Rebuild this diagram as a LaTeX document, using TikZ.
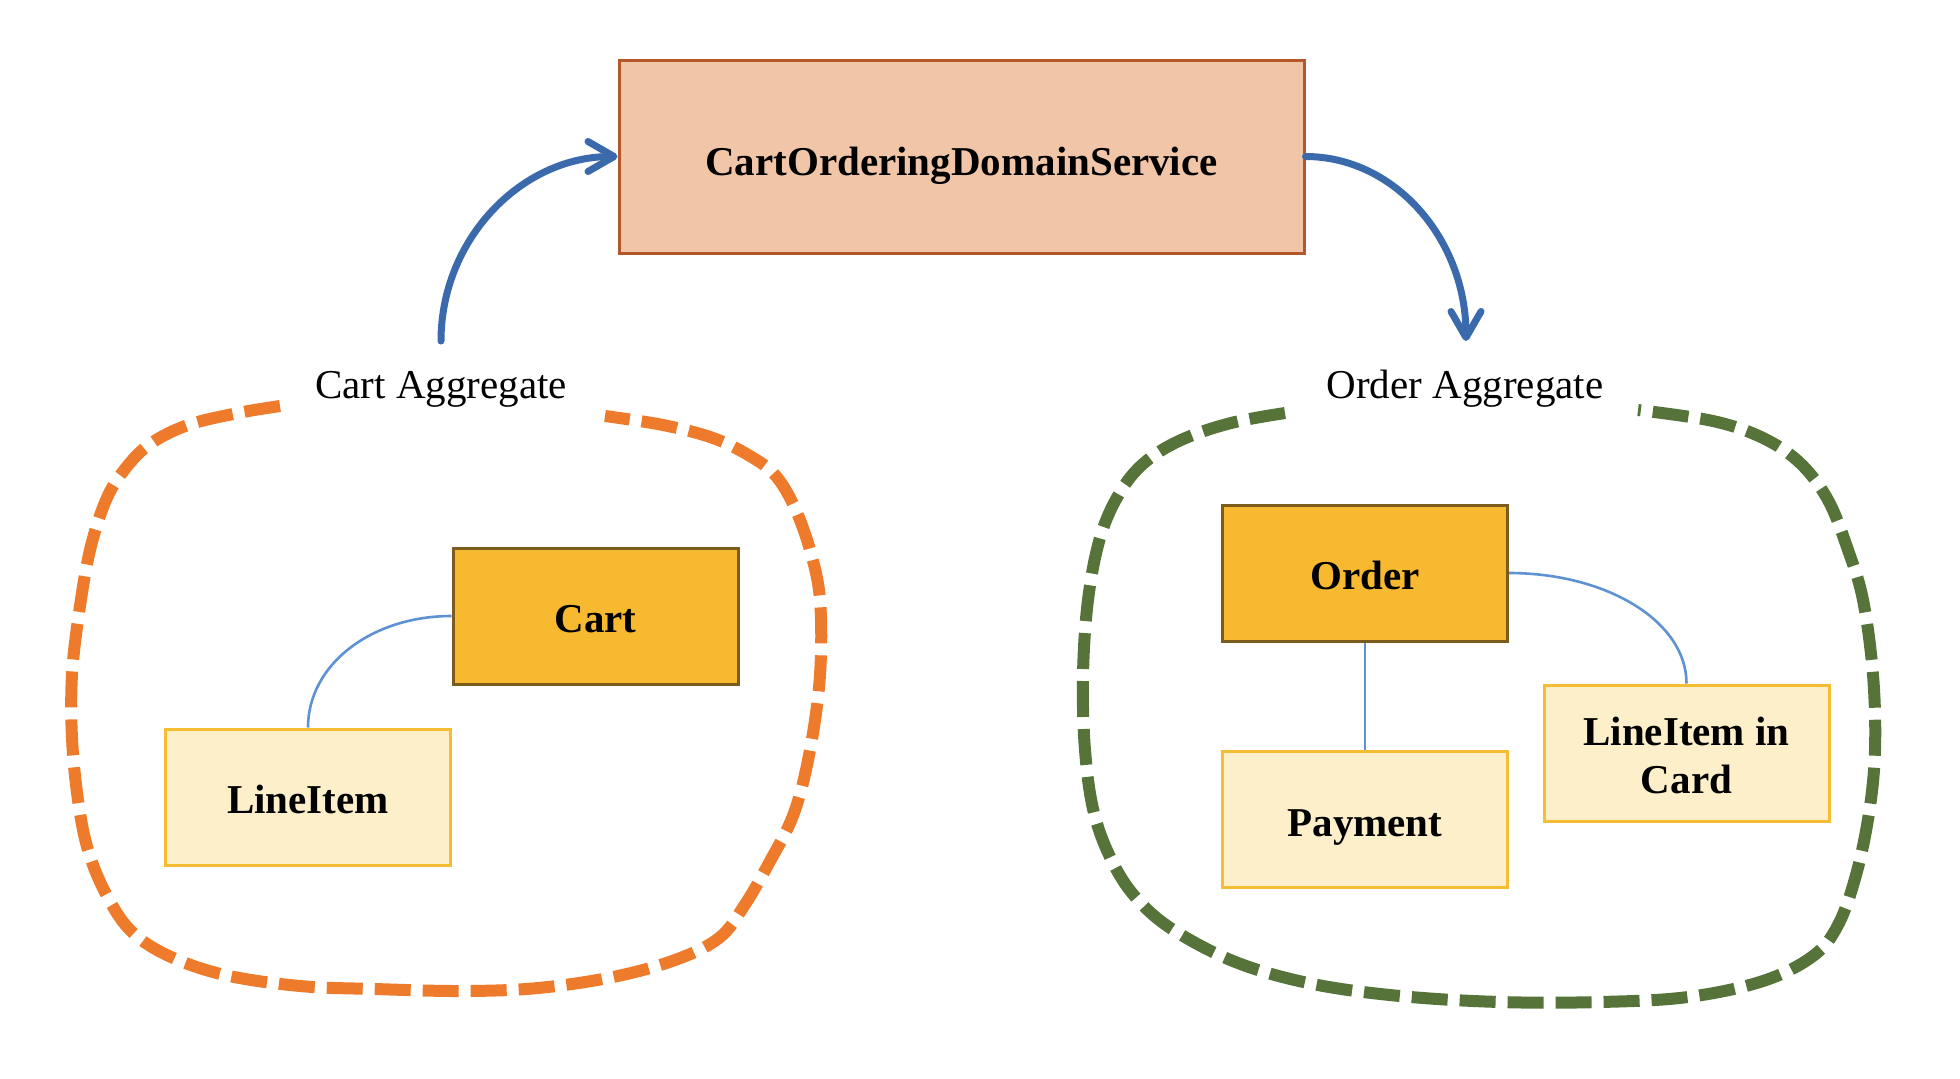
\documentclass[tikz,border=0pt]{standalone}
\usepackage{fontspec}
\setmainfont{Liberation Serif}
\usetikzlibrary{arrows.meta}
\definecolor{svcfill}{HTML}{F1C6A8}
\definecolor{svcdraw}{HTML}{B4582A}
\definecolor{arrowblue}{HTML}{3A6AAC}
\definecolor{orangeb}{HTML}{EE7B2B}
\definecolor{greenb}{HTML}{56743A}
\definecolor{gold}{HTML}{F6B92F}
\definecolor{golddark}{HTML}{7A5C1E}
\definecolor{lightfill}{HTML}{FDEFC9}
\definecolor{lightdraw}{HTML}{F5BD33}
\definecolor{linkblue}{HTML}{5E92D3}
\tikzset{
  boxtext/.style={font=\fontsize{20.5pt}{24pt}\selectfont\bfseries, align=center, inner sep=0pt, text height=16.6pt, text depth=0pt},
  svcbox/.style={boxtext, text height=18.6pt, draw=svcdraw, fill=svcfill, line width=1.5pt, minimum width=342.5pt, minimum height=96.5pt},
  rootbox/.style={boxtext, draw=golddark, fill=gold, line width=1.5pt, minimum width=142.5pt, minimum height=68pt},
  entbox/.style={boxtext, draw=lightdraw, fill=lightfill, line width=1.5pt, minimum width=142.5pt, minimum height=68pt},
  agglabel/.style={font=\fontsize{20.5pt}{24pt}\selectfont, inner sep=0pt, text height=13.4pt, text depth=0pt},
  flow/.style={draw=arrowblue, line width=3.5pt, line cap=round, -{Straight Barb[length=13pt,width=15pt,line cap=round,line join=round]}},
  link/.style={draw=linkblue, line width=1.3pt},
  blob/.style={line width=6pt, dash pattern=on 18pt off 6pt},
}
\begin{document}
\begin{tikzpicture}[x=0.5pt,y=-0.5pt]
\useasboundingbox (0,0) rectangle (1960,1078);
% main service
\node[svcbox] (svc) at (961.5,156.5) {CartOrderingDomainService};
% aggregate labels
\node[agglabel] (cagg) at (441,385) {Cart Aggregate};
\node[agglabel] (oagg) at (1465,385) {Order Aggregate};
\coordinate (cstart) at (441,341);
\coordinate (oend) at (1466,341);
% boundaries
\draw[blob, draw=orangeb] plot[smooth, tension=0.6] coordinates {
 (280,406) (238,413) (188,425) (150,444) (125,469) (106,500) (90,550) (79,613)
 (72,675) (72,738) (78,800) (88,850) (106,894) (131,931) (169,956) (225,975)
 (300,986) (375,989) (463,991) (538,988) (613,977) (675,960) (719,938) (744,906)
 (769,863) (794,813) (810,750) (820,675) (820,600) (810,550) (794,506) (775,475)
 (750,456) (713,438) (663,425) (605,416)};
\draw[blob, draw=greenb] plot[smooth, tension=0.6] coordinates {
 (1285,413) (1231,423) (1181,440) (1144,463) (1119,494) (1100,538) (1088,600)
 (1083,675) (1085,750) (1094,813) (1113,863) (1138,900) (1175,931) (1238,963)
 (1313,984) (1400,996) (1500,1002) (1600,1002) (1688,997) (1763,981) (1813,956)
 (1838,925) (1856,875) (1869,813) (1875,750) (1873,675) (1863,600) (1848,550)
 (1828,500) (1800,463) (1763,438) (1713,421) (1638,410)};
% entities
\node[rootbox] (cart) at (595.5,616) {Cart};
\node[entbox] (lineitem) at (308,797) {LineItem};
\node[rootbox] (order) at (1365,573) {Order};
\node[entbox] (payment) at (1365,819.5) {Payment};
\node[entbox, text height=40.6pt] (licard) at (1686.5,753) {LineItem in\\Card};
% links
\draw[link] (cart.west) .. controls +(-80,0) and +(0,-63) .. (lineitem.north);
\draw[link] (order.south) -- (payment.north);
\draw[link] (order.east) .. controls +(98,0) and +(0,-62) .. (licard.north);
% flows
\draw[flow] (cstart) .. controls +(0,-102) and +(-96,0) .. (svc.west);
\draw[flow] (svc.east) .. controls +(89,0) and +(0,-102) .. (oend);
\end{tikzpicture}
\end{document}
